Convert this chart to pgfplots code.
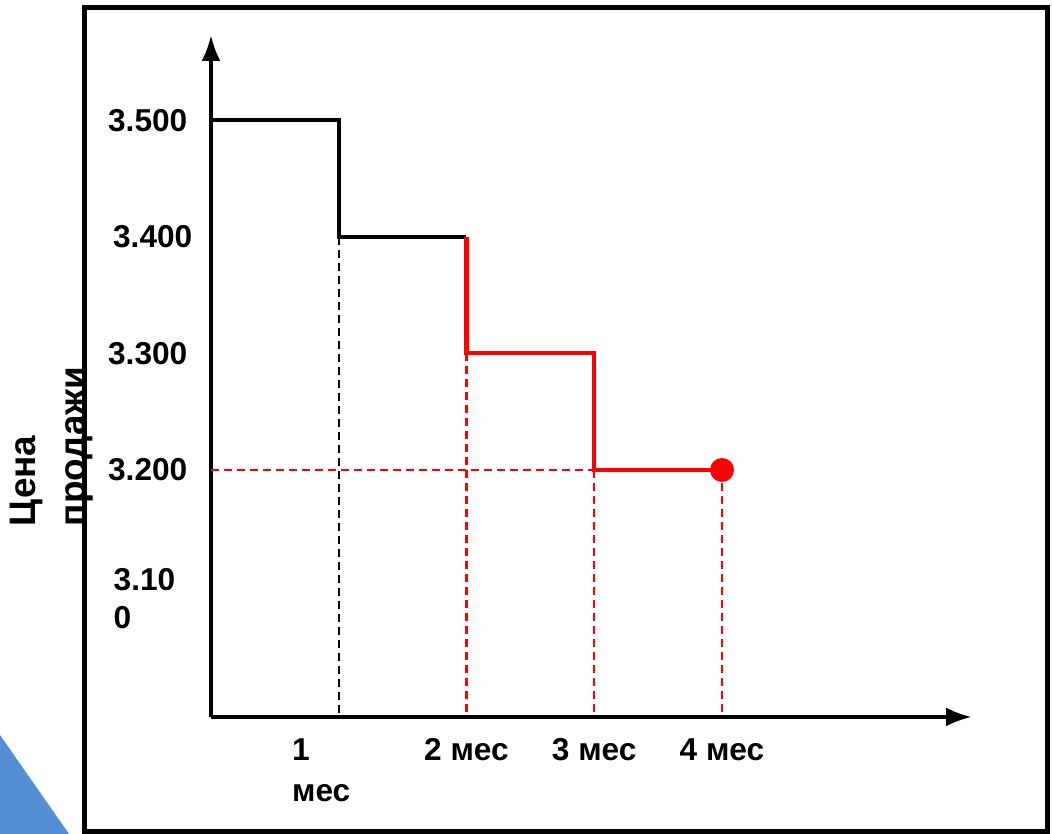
\documentclass[border=0pt]{standalone}
\usepackage{pgfplots}
\pgfplotsset{compat=1.18}
\usepackage{fontspec}
\setmainfont{Liberation Sans}
\usetikzlibrary{arrows.meta}
\definecolor{triblue}{RGB}{85,142,213}
\begin{document}
\begin{tikzpicture}
  \begin{axis}[
      scale only axis,
      width=7.61cm,
      height=6.82cm,
      xmin=0, xmax=5.957,
      ymin=2.988, ymax=3.5734,
      clip=false,
      axis x line=bottom,
      axis y line=left,
      axis line style={line width=1.15pt,-{Latex[length=0.26cm,width=0.19cm]}},
      major tick length=0pt,
      xtick={1,2,3,4},
      xticklabels={{\hspace*{-0.35cm}\shortstack[l]{1\\[3.8pt]мес}},2 мес,3 мес,4 мес},
      ytick={3.2,3.3,3.4,3.5},
      yticklabels={3.200,3.300,{3.400\hspace*{-0.05cm}},3.500},
      ticklabel style={font=\bfseries\fontsize{9}{10.8}\selectfont, inner sep=0pt},
      xticklabel style={anchor=north, yshift=-0.21cm},
      yticklabel style={anchor=east, xshift=-0.23cm},
    ]
    % decorations: frame, triangle, page extent
    \path (axis cs:-1.6517,2.8876) rectangle (axis cs:6.5910,3.6034);
    \fill[triblue] (axis cs:-1.6517,2.9725) -- (axis cs:-1.1115,2.8876) -- (axis cs:-1.6517,2.8876) -- cycle;
    \draw[line width=0.05cm] (axis cs:-0.9902,2.8901) rectangle (axis cs:6.5519,3.5970);

    % guide lines
    \addplot[black, line width=0.65pt, dash pattern=on 0.08cm off 0.05cm] coordinates {(1,3.4) (1,2.988)};
    \addplot[red, line width=0.65pt, dash pattern=on 0.08cm off 0.05cm] coordinates {(0,3.2) (3,3.2)};
    \addplot[red, line width=0.65pt, dash pattern=on 0.08cm off 0.05cm] coordinates {(2,3.3) (2,2.988)};
    \addplot[red, line width=0.65pt, dash pattern=on 0.08cm off 0.05cm] coordinates {(3,3.2) (3,2.988)};
    \addplot[red, line width=0.65pt, dash pattern=on 0.08cm off 0.05cm] coordinates {(4,3.2) (4,2.988)};

    % price steps
    \addplot[black, line width=1.15pt, const plot mark left] coordinates {(0,3.5) (1,3.4) (2,3.4)};
    \addplot[red, line width=1.15pt, const plot mark right] coordinates {(2,3.4) (3,3.3) (4,3.2)};
    \addplot[only marks, mark=*, mark size=3.2pt, red] coordinates {(4,3.2)};

    % odd label and axis title
    \node[anchor=north west, inner sep=0pt, align=left, font=\bfseries\fontsize{9}{10.8}\selectfont]
      at (axis cs:-0.7671,3.1159) {3.10\\0};
    \node[rotate=90, anchor=west, inner sep=0pt, align=left, font=\bfseries\fontsize{10.5}{14.2}\selectfont]
      at (axis cs:-1.2446,3.1511) {Цена\\продажи};
  \end{axis}
\end{tikzpicture}
\end{document}
